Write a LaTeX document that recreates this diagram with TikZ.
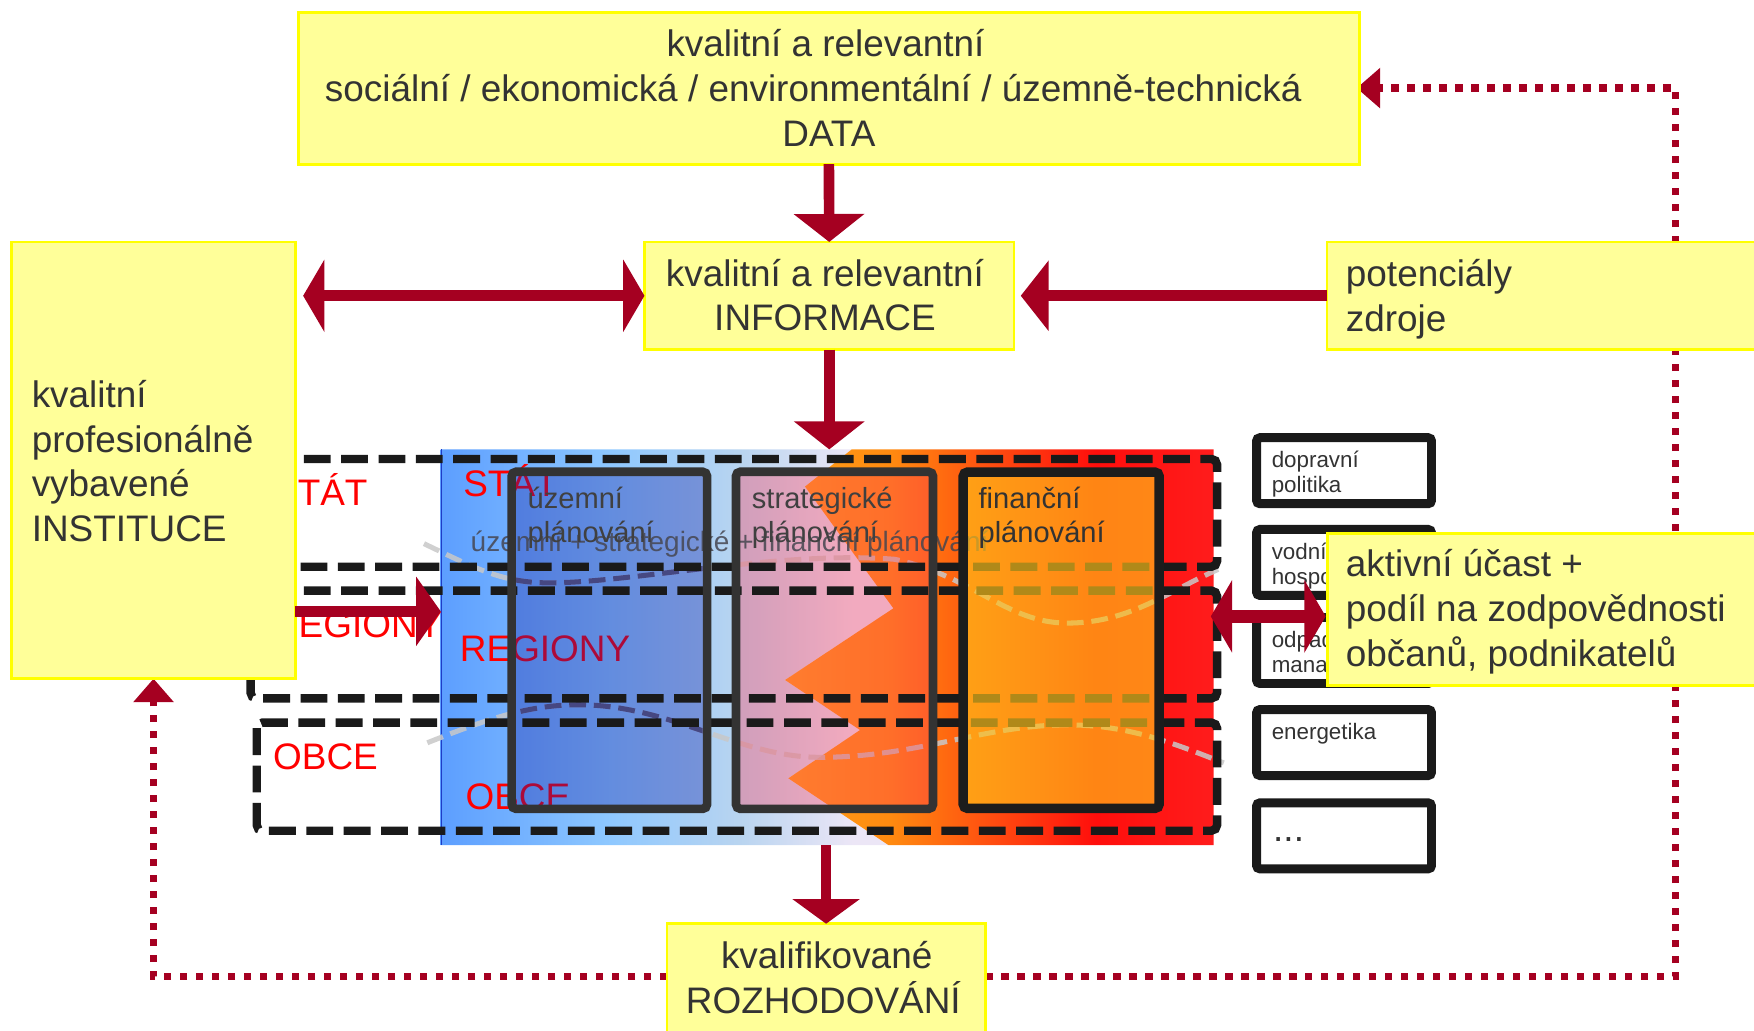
\documentclass[tikz,border=0pt]{standalone}
\usepackage{fontspec}
\setmainfont{Liberation Sans}
\usetikzlibrary{arrows.meta}
\pgfdeclarelayer{bglayer}
\pgfsetlayers{bglayer,main}
\definecolor{yfill}{RGB}{255,255,153}
\definecolor{yline}{RGB}{255,255,0}
\definecolor{darr}{RGB}{165,0,33}
\definecolor{txt}{RGB}{51,51,51}
\definecolor{dkline}{RGB}{26,26,26}
\definecolor{colline}{RGB}{51,51,51}
\definecolor{finline}{RGB}{28,28,28}
\definecolor{lbA}{RGB}{92,158,255}
\definecolor{lbB}{RGB}{142,200,255}
\definecolor{lbC}{RGB}{184,212,240}
\definecolor{lbD}{RGB}{236,230,246}
\definecolor{rbA}{RGB}{255,160,24}
\definecolor{rbB}{RGB}{255,138,16}
\definecolor{rbC}{RGB}{255,76,16}
\definecolor{rbD}{RGB}{255,14,12}
\definecolor{rbE}{RGB}{255,28,28}
\definecolor{uzc}{RGB}{20,31,165}
\definecolor{stc}{RGB}{255,60,90}
\definecolor{finc}{RGB}{255,195,25}
\definecolor{curvec}{RGB}{200,200,200}
\definecolor{curvenavy}{RGB}{60,60,120}
\definecolor{edgeblue}{RGB}{30,60,200}
\definecolor{ovtxt}{RGB}{70,70,80}
\definecolor{labtxt}{RGB}{64,64,64}
\pgfdeclarehorizontalshading{bgleft}{100bp}{color(0bp)=(lbA); color(25bp)=(lbA); color(43.7bp)=(lbB); color(57.9bp)=(lbC); color(70.5bp)=(lbD); color(75bp)=(lbD); color(100bp)=(lbD)}
\pgfdeclarehorizontalshading{bgright}{100bp}{color(0bp)=(rbA); color(25bp)=(rbA); color(37.3bp)=(rbB); color(49.3bp)=(rbC); color(61.3bp)=(rbD); color(75bp)=(rbE); color(100bp)=(rbE)}
\newcommand\fsBig{\fontsize{33}{40}\selectfont}
\newcommand\fsMid{\fontsize{26}{31}\selectfont}
\newcommand\fsSmall{\fontsize{20}{22.5}\selectfont}
\newcommand\fsOv{\fontsize{25}{30}\selectfont}
\newcommand\mlc[1]{\vtop{\lineskiplimit=-\maxdimen\lineskip=0pt\halign{\hfil##\hfil\cr#1\crcr}}}
\newcommand\mll[1]{\vtop{\lineskiplimit=-\maxdimen\lineskip=0pt\halign{##\hfil\cr#1\crcr}}}
\tikzset{
  ybox/.style={draw=yline, line width=2.6pt, fill=yfill, inner sep=0pt, outer sep=0pt},
  btxt/.style={font=\fsBig, text=txt, inner sep=0pt},
  redlab/.style={font=\fsBig, text=red, inner sep=0pt, anchor=base west},
  collab/.style={font=\fsMid, text=labtxt, inner sep=0pt, anchor=base west},
  smallbox/.style={draw=dkline, line width=8pt, fill=white, rounded corners=3pt, inner sep=0pt, outer sep=0pt, minimum width=156.4pt, minimum height=59pt},
  smtxt/.style={font=\fsSmall, text=txt, inner sep=0pt, anchor=base west},
  bigarr/.style={draw=darr, line width=9.5pt, -{Triangle[length=25pt,width=62pt]}},
  dblarr/.style={draw=darr, line width=10pt, {Triangle[length=19pt,width=64pt]}-{Triangle[length=19pt,width=64pt]}},
  dotarr/.style={draw=darr, line width=7pt, dash pattern=on 6.6pt off 7.7pt, -{Triangle[length=21pt,width=35pt]}},
  dbox/.style={draw=dkline, line width=7.5pt, dash pattern=on 24pt off 9.4pt, rounded corners=5pt},
  curve/.style={draw=curvec, line width=4.5pt, dash pattern=on 15pt off 7pt, draw opacity=0.85},
  colbd/.style={draw=colline, line width=7.7pt, rounded corners=4pt, inner sep=0pt, outer sep=0pt}
}
\begin{document}
\begin{tikzpicture}[x=1pt,y=-1pt]
\path[use as bounding box] (0,0) rectangle (1568,920.8);
\clip (0,0) rectangle (1568,920.8);

% coloured block
\shade[shading=bgleft] (394,401.7) -- (761.4,401.7) -- (719.6,435) -- (798.6,543.8) -- (701.8,607.9) -- (768.8,652.6) -- (704.7,695.8) -- (794.1,755.4) -- (394,755.4) -- cycle;
\shade[shading=bgright] (761.4,401.7) -- (1085,401.7) -- (1085,755.4) -- (794.1,755.4) -- (704.7,695.8) -- (768.8,652.6) -- (701.8,607.9) -- (798.6,543.8) -- (719.6,435) -- cycle;
\draw[edgeblue, line width=1.2pt] (394.6,401.7) -- (394.6,755.4);
\node[inner sep=0pt, outer sep=0pt, minimum width=691pt, minimum height=353.7pt] (block) at (739.5,578.55) {};

% level labels
\node[redlab] (stA) at (244,452) {STÁT};
\node[redlab] (rgA) at (243,570) {REGIONY};
\node[redlab] (obA) at (244,687.5) {OBCE};
\node[redlab] (stB) at (414,444) {STÁT};
\node[redlab] (rgB) at (411,591.5) {REGIONY};
\node[redlab] (obB) at (416,724) {OBCE};

% wavy lines
\draw[curve] (379,486) .. controls (425,508) and (450,522) .. (495,521) .. controls (570,520) and (700,492) .. (800,500) .. controls (870,515) and (900,557) .. (954,557) .. controls (1010,557) and (1045,528) .. (1089,509);
\draw[curve] (382,664) .. controls (430,645) and (470,630) .. (517,630) .. controls (600,630) and (660,677) .. (733,677) .. controls (820,677) and (880,648) .. (954,648) .. controls (1010,648) and (1050,665) .. (1094,682);

% column fills
\fill[uzc, fill opacity=0.35, rounded corners=4pt] (457.4,421.7) rectangle (632.1,723.1);
\fill[stc, fill opacity=0.35, rounded corners=4pt] (657.9,421.7) rectangle (834.1,723.1);
\begin{scope}
\clip (461.3,425.6) rectangle (628.2,719.2);
\draw[curve, draw=curvenavy] (379,486) .. controls (425,508) and (450,522) .. (495,521) .. controls (570,520) and (700,492) .. (800,500);
\draw[curve, draw=curvenavy] (382,664) .. controls (430,645) and (470,630) .. (517,630) .. controls (600,630) and (660,677) .. (733,677);
\end{scope}

% dashed level boxes
\draw[dbox] (224,410.3) rectangle (1088,506.6);
\draw[dbox] (224,528) rectangle (1088,624.3);
\draw[dbox] (229.5,646) rectangle (1088,742.6);

\node[font=\fsOv, text=ovtxt, text opacity=0.85, inner sep=0pt, anchor=base west] (ovt) at (420.6,493) {územní + strategické + finanční plánování};

\fill[finc, fill opacity=0.66, rounded corners=4pt] (861,422) rectangle (1036.3,722.7);

% column borders
\node[colbd, minimum width=174.7pt, minimum height=301.4pt] (cUz) at (544.75,572.4) {};
\node[colbd, minimum width=176.2pt, minimum height=301.4pt] (cSt) at (746,572.4) {};
\node[colbd, draw=finline, line width=8.5pt, minimum width=175.3pt, minimum height=300.7pt] (cFin) at (948.65,572.35) {};
\node[collab] (lUz) at (471.5,454.4) {\mll{územní\cr plánování}};
\node[collab] (lSt) at (672,454.4) {\mll{strategické\cr plánování}};
\node[collab, text=txt] (lFin) at (874.6,454.4) {\mll{finanční\cr plánování}};

% yellow boxes
\node[ybox, minimum width=948.8pt, minimum height=135.9pt] (data) at (741,78.75) {};
\node[btxt, anchor=base] (tData) at (738,50.7) {\mlc{kvalitní a relevantní\cr sociální / ekonomická / environmentální / územně-technická\kern22pt\cr DATA\kern-6pt}};
\node[ybox, minimum width=330.4pt, minimum height=96.2pt] (info) at (741.3,264.4) {};
\node[btxt, anchor=base] (tInfo) at (737.5,255.7) {\mlc{kvalitní a relevantní\cr INFORMACE}};
\node[ybox, minimum width=253.5pt, minimum height=390.4pt] (inst) at (137.25,411.5) {};
\node[btxt, anchor=base west] (tInst) at (28.2,364.2) {\mll{kvalitní\cr profesionálně\cr vybavené\cr INSTITUCE}};
\node[ybox, minimum width=413.7pt, minimum height=96.2pt] (pot) at (1393.15,264.4) {};
\node[btxt, anchor=base west] (tPot) at (1203,256) {\mll{potenciály\cr zdroje}};

% sector boxes
\node[smallbox] (sb1) at (1201.5,420.8) {};
\node[smallbox] (sb2) at (1201.5,502.8) {};
\node[smallbox] (sb3) at (1201.5,581.5) {};
\node[smallbox] (sb4) at (1201.5,663.8) {};
\node[smallbox] (sb5) at (1201.5,747.2) {};
\node[smtxt] (t1) at (1136.7,417.8) {\mll{dopravní\cr politika}};
\node[smtxt] (t2) at (1136.7,499.8) {\mll{vodní\cr hospodářství}};
\node[smtxt] (t3) at (1136.7,578.5) {\mll{odpadový\cr management}};
\node[smtxt] (t4) at (1136.7,660.8) {energetika};
\node[smtxt, font=\fsBig] (t5) at (1138,752.4) {...};

\node[ybox, minimum width=412.9pt, minimum height=136pt] (akt) at (1393.55,544.6) {};
\node[btxt, anchor=base west] (tAkt) at (1203,515.5) {\mll{aktivní účast +\cr podíl na zodpovědnosti\cr občanů, podnikatelů}};
\node[ybox, minimum width=284.4pt, minimum height=124.2pt] (rozh) at (738.5,887.9) {};
\node[btxt, anchor=base] (tRozh) at (736,865.7) {\mlc{kvalifikované\kern-6pt\cr ROZHODOVÁNÍ}};

% arrows
\coordinate (yA) at (0,546.5);
\coordinate (yB) at (0,551);
\coordinate (yD) at (0,873);
\coordinate (xD) at (1497.8,0);
\draw[bigarr] (data.south) -- (info.north);
\draw[bigarr] (info.south) -- (info.south |- block.north);
\draw[dblarr, shorten <=7pt] (inst.east |- info.west) -- (info.west);
\draw[bigarr, line width=10pt, shorten >=6pt] (pot.west) -- (info.east);
\draw[bigarr, -{Triangle[length=22pt,width=61pt]}] (inst.east |- yA) -- (block.west |- yA);
\draw[dblarr, line width=12pt, shorten <=-2.6pt, shorten >=2pt] (block.east |- yB) -- (akt.west |- yB);
\draw[bigarr, line width=8.5pt, -{Triangle[length=22pt,width=59pt]}] (rozh.north |- block.south) -- (rozh.north);

\begin{pgfonlayer}{bglayer}
\draw[dotarr] (rozh.west |- yD) -| (inst.south);
\draw[dotarr, shorten >=-2.6pt] (rozh.east |- yD) -- (xD |- yD) -- (xD |- data.east) -- (data.east);
\end{pgfonlayer}
\end{tikzpicture}
\end{document}
